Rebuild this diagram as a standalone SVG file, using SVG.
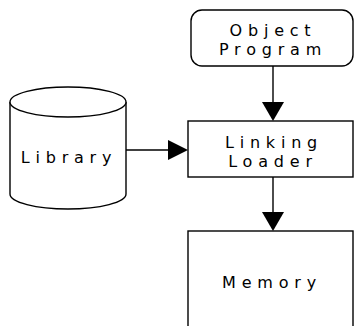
<svg xmlns="http://www.w3.org/2000/svg" width="354" height="326" viewBox="0 0 354 326">
<defs>
<style>
.s{fill:#fff;stroke:#000;stroke-width:1.4}
.t{font-family:"DejaVu Sans",sans-serif;font-size:16px;letter-spacing:5.8px;text-anchor:middle;fill:#000}
.c{stroke:#000;stroke-width:1.4;fill:none}
.h{fill:#000;stroke:none}
</style>
</defs>
<rect width="354" height="326" fill="#fff"/>
<g id="library">
<path class="s" d="M10,102 L10,194 A58,15 0 0 0 126,194 L126,102"/>
<ellipse class="s" cx="68" cy="102" rx="58" ry="15"/>
<text class="t" x="69" y="163">Library</text>
</g>
<g id="object-program">
<rect class="s" x="191" y="10" width="162" height="56" rx="11"/>
<text class="t" x="273" y="36">Object</text>
<text class="t" x="273" y="55">Program</text>
</g>
<g id="linking-loader">
<rect class="s" x="188" y="121" width="165" height="56"/>
<text class="t" x="274" y="148">Linking</text>
<text class="t" x="273" y="167">Loader</text>
</g>
<g id="memory">
<rect class="s" x="188" y="231" width="165" height="110"/>
<text class="t" x="272" y="288">Memory</text>
</g>
<g id="connectors">
<line class="c" x1="273" y1="66" x2="273" y2="104"/>
<polygon class="h" points="262,102 284,102 273,121"/>
<line class="c" x1="126" y1="150" x2="170" y2="150"/>
<polygon class="h" points="168,140 168,160 188,150"/>
<line class="c" x1="273" y1="177" x2="273" y2="214"/>
<polygon class="h" points="262,212 284,212 273,231"/>
</g>
</svg>
